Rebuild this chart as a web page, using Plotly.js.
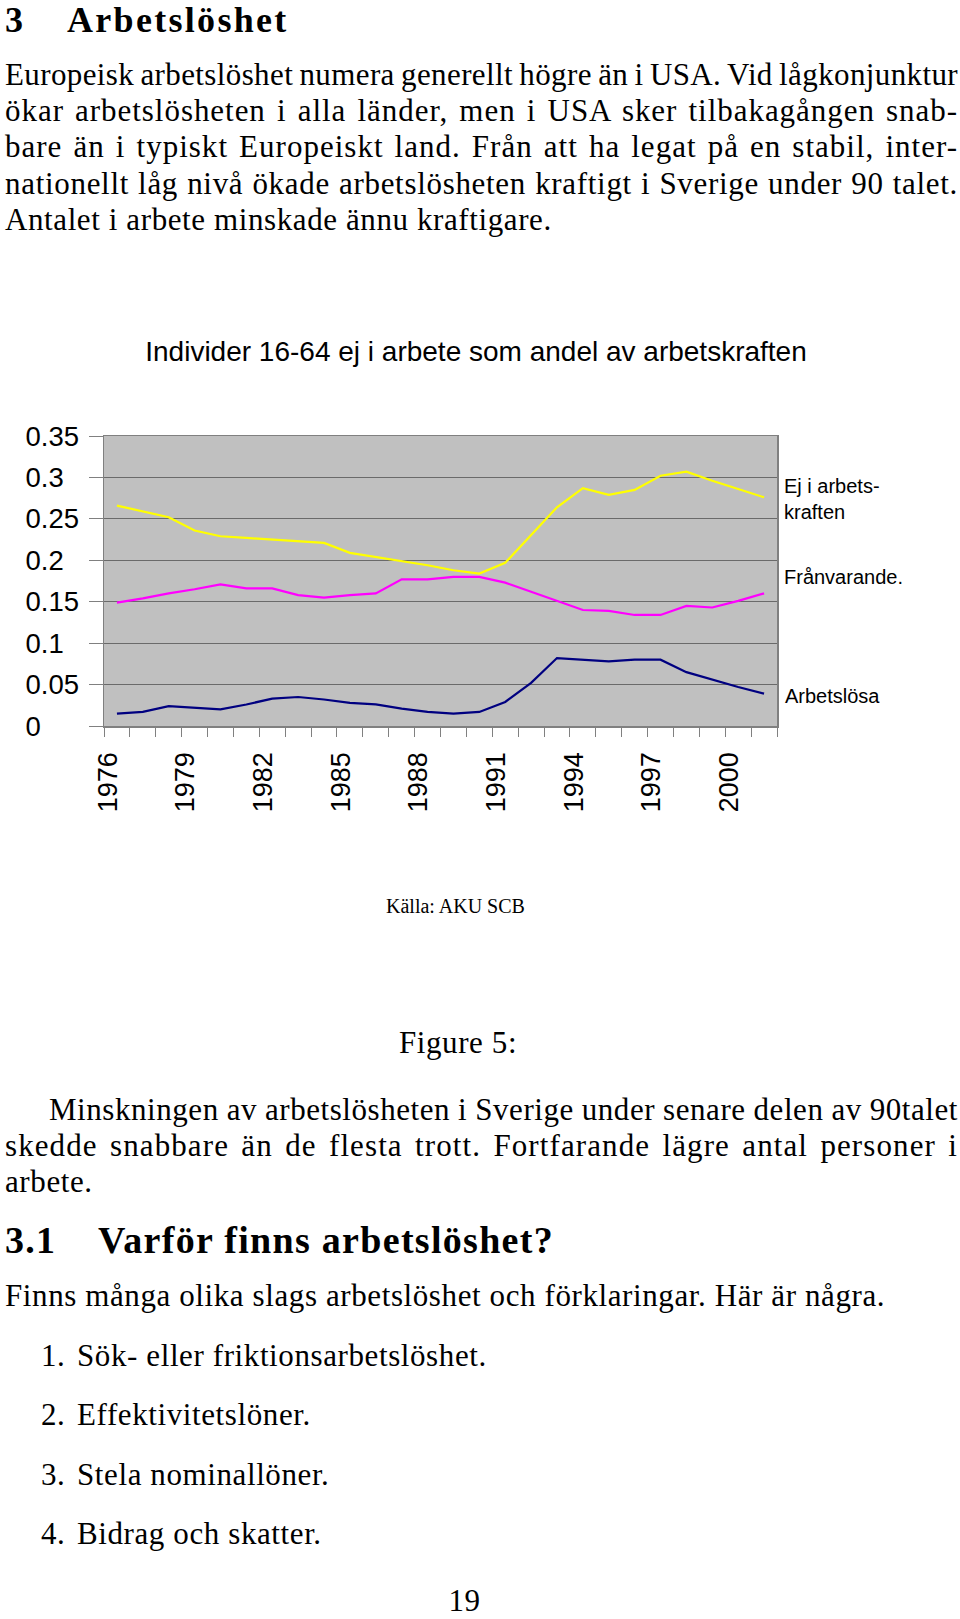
<!DOCTYPE html>
<html>
<head>
<meta charset="utf-8">
<script src="https://cdn.plot.ly/plotly-3.0.1.min.js"></script>
<style>
  html, body { margin:0; padding:0; background:#fff; }
  #page { position:relative; width:960px; height:1619px; overflow:hidden; background:#fff; }
  #chart { position:absolute; left:0; top:0; width:960px; height:1619px; z-index:1; }
  .l { position:absolute; white-space:nowrap; font-family:'Liberation Serif','Times New Roman',serif;
       font-size:31px; line-height:31px; letter-spacing:0.6px; color:#000; z-index:2; }
  .h { font-weight:bold; font-size:38px; line-height:38px; letter-spacing:1.3px; }
  .h1 { font-size:36px; line-height:36px; letter-spacing:2.3px; }
  .c { text-align:center; }
</style>
</head>
<body>
<div id="page">
  <div id="chart"></div>

  <div class="l h h1" style="left:5px;top:2px">3</div>
  <div class="l h h1" style="left:67px;top:2px">Arbetslöshet</div>

  <div class="l j" data-w="953" style="left:5px;top:59px">Europeisk arbetslöshet numera generellt högre än i USA. Vid lågkonjunktur</div>
  <div class="l j" data-w="953" style="left:5px;top:95px">ökar arbetslösheten i alla länder, men i USA sker tilbakagången snab-</div>
  <div class="l j" data-w="953" style="left:5px;top:131px">bare än i typiskt Europeiskt land. Från att ha legat på en stabil, inter-</div>
  <div class="l j" data-w="953" style="left:5px;top:168px">nationellt låg nivå ökade arbetslösheten kraftigt i Sverige under 90 talet.</div>
  <div class="l" style="left:5px;top:204px">Antalet i arbete minskade ännu kraftigare.</div>

  <div class="l c" style="left:0;width:916px;top:1027px">Figure 5:</div>

  <div class="l j" data-w="909" style="left:49px;top:1094px">Minskningen av arbetslösheten i Sverige under senare delen av 90talet</div>
  <div class="l j" data-w="953" style="left:5px;top:1130px">skedde snabbare än de flesta trott. Fortfarande lägre antal personer i</div>
  <div class="l" style="left:5px;top:1166px">arbete.</div>

  <div class="l h" style="left:5px;top:1221px">3.1</div>
  <div class="l h" style="left:98px;top:1221px">Varför finns arbetslöshet?</div>

  <div class="l" style="left:5px;top:1280px">Finns många olika slags arbetslöshet och förklaringar. Här är några.</div>

  <div class="l" style="left:41px;top:1340px">1.</div>
  <div class="l" style="left:77px;top:1340px">Sök- eller friktionsarbetslöshet.</div>
  <div class="l" style="left:41px;top:1399px">2.</div>
  <div class="l" style="left:77px;top:1399px">Effektivitetslöner.</div>
  <div class="l" style="left:41px;top:1459px">3.</div>
  <div class="l" style="left:77px;top:1459px">Stela nominallöner.</div>
  <div class="l" style="left:41px;top:1518px">4.</div>
  <div class="l" style="left:77px;top:1518px">Bidrag och skatter.</div>

  <div class="l c" style="left:0;width:929px;top:1589px;line-height:24px">19</div>
</div>

<script>
// ---- data ----
const years = [1976,1977,1978,1979,1980,1981,1982,1983,1984,1985,1986,1987,1988,
               1989,1990,1991,1992,1993,1994,1995,1996,1997,1998,1999,2000,2001];
const ejIArbetskraften = [0.266,0.259,0.252,0.236,0.229,0.227,0.225,0.223,0.221,0.209,0.204,0.199,0.194,
                          0.188,0.184,0.197,0.231,0.264,0.287,0.279,0.285,0.302,0.307,0.296,0.286,0.276];
const franvarande = [0.149,0.154,0.160,0.165,0.171,0.166,0.166,0.158,0.155,0.158,0.160,0.177,0.177,
                     0.180,0.180,0.173,0.162,0.151,0.140,0.139,0.134,0.134,0.145,0.143,0.151,0.160];
const arbetslosa = [0.015,0.017,0.024,0.022,0.020,0.026,0.033,0.035,0.032,0.028,0.026,0.021,0.017,
                    0.015,0.017,0.029,0.052,0.082,0.080,0.078,0.080,0.080,0.065,0.056,0.047,0.039];
const xLabelYears = [1976,1979,1982,1985,1988,1991,1994,1997,2000];
const yTicks = [0,0.05,0.1,0.15,0.2,0.25,0.3,0.35];
const yTickLabels = ['0','0.05','0.1','0.15','0.2','0.25','0.3','0.35'];
const seriesNames = ['Ej i arbets-<br>kraften','Frånvarande.','Arbetslösa'];
const chartTitle = 'Individer 16-64 ej i arbete som andel av arbetskraften';
const sourceNote = 'Källa: AKU SCB';

// pad tick labels so they look left-aligned (figure space = digit width, punctuation space = '.')
function padLabel(s){
  let out = s;
  if (s.indexOf('.') < 0) out += '\u2008';
  const digitsAfter = s.indexOf('.') < 0 ? 0 : s.length - s.indexOf('.') - 1;
  for (let i = digitsAfter; i < 2; i++) out += '\u2007';
  return out;
}

// plot area geometry (pixels)
const PL = 104, PR = 777, PT = 436, PB = 726, W = 960, H = 1619;
const px2paperX = x => (x - PL) / (PR - PL);
const px2paperY = y => (PB - y) / (PB - PT);

const traces = [
  {x: years, y: ejIArbetskraften, name: 'Ej i arbetskraften', mode:'lines', line:{color:'#ffff00', width:2.2}},
  {x: years, y: franvarande, name: 'Frånvarande', mode:'lines', line:{color:'#ff00ff', width:2.2}},
  {x: years, y: arbetslosa, name: 'Arbetslösa', mode:'lines', line:{color:'#000080', width:2.2}}
];

const sans = 'Liberation Sans, Arial, sans-serif';
const layout = {
  width: W, height: H,
  margin: {l: PL, r: W - PR, t: PT, b: H - PB, pad: 0},
  paper_bgcolor: 'rgba(0,0,0,0)',
  plot_bgcolor: '#c0c0c0',
  showlegend: false,
  font: {family: sans, color: '#000'},
  title: {text: chartTitle, font: {family: sans, size: 28, color:'#000'},
          x: 476 / W, xref: 'container', xanchor: 'center',
          y: 1 - 351 / H, yref: 'container', yanchor: 'middle'},
  xaxis: {
    range: [1975.5, 2001.5], tickmode: 'array', tickvals: xLabelYears,
    ticktext: xLabelYears.map(String), tickangle: -90,
    tickfont: {family: sans, size: 27, color:'#000'},
    ticks: 'outside', ticklen: 9, tickcolor: 'rgba(0,0,0,0)',
    ticklabelstandoff: 5, ticklabelshift: -9,
    showgrid: false, zeroline: false,
    showline: true, linecolor: '#808080', linewidth: 1.5, mirror: true,
    minor: {tickmode: 'linear', tick0: 1975.5, dtick: 1, ticks: 'outside',
            ticklen: 9, tickcolor: '#808080', tickwidth: 1, showgrid: false}
  },
  yaxis: {
    range: [0, 0.35], tickmode: 'array', tickvals: yTicks,
    ticktext: yTickLabels.map(padLabel),
    tickfont: {family: sans, size: 27.5, color:'#000'},
    ticks: 'outside', ticklen: 14, tickcolor: '#808080', tickwidth: 1,
    ticklabelstandoff: 4,
    showgrid: true, gridcolor: '#6a6a6a', gridwidth: 1, zeroline: false,
    showline: true, linecolor: '#808080', linewidth: 1.5, mirror: true
  },
  annotations: [
    {text: seriesNames[0], xref:'paper', yref:'paper', x: px2paperX(782), y: px2paperY(499),
     xanchor:'left', yanchor:'middle', align:'left', showarrow:false, font:{family:sans, size:20, color:'#000'}},
    {text: seriesNames[1], xref:'paper', yref:'paper', x: px2paperX(782), y: px2paperY(577),
     xanchor:'left', yanchor:'middle', align:'left', showarrow:false, font:{family:sans, size:20, color:'#000'}},
    {text: seriesNames[2], xref:'paper', yref:'paper', x: px2paperX(783), y: px2paperY(696),
     xanchor:'left', yanchor:'middle', align:'left', showarrow:false, font:{family:sans, size:20, color:'#000'}},
    {text: sourceNote, xref:'paper', yref:'paper', x: px2paperX(455), y: px2paperY(906),
     xanchor:'center', yanchor:'middle', showarrow:false,
     font:{family:'Liberation Serif, Times New Roman, serif', size:20, color:'#000'}}
  ]
};

Plotly.newPlot('chart', traces, layout, {staticPlot: true, displayModeBar: false});

// justify text lines to a fixed width: share the slack between letter and word spacing
document.querySelectorAll('.j').forEach(el => {
  const target = parseFloat(el.dataset.w);
  const baseLS = 0.6;
  el.style.wordSpacing = '0px';
  el.style.letterSpacing = baseLS + 'px';
  const natural = el.getBoundingClientRect().width;
  const txt = el.textContent.trim().replace(/\s+/g,' ');
  const spaces = (txt.match(/ /g) || []).length;
  const chars = txt.length;
  const delta = target - natural;
  const ls = baseLS + 0.5 * delta / chars;
  el.style.letterSpacing = ls + 'px';
  const w2 = el.getBoundingClientRect().width;
  if (spaces > 0) el.style.wordSpacing = ((target - w2) / spaces) + 'px';
});
</script>
</body>
</html>
